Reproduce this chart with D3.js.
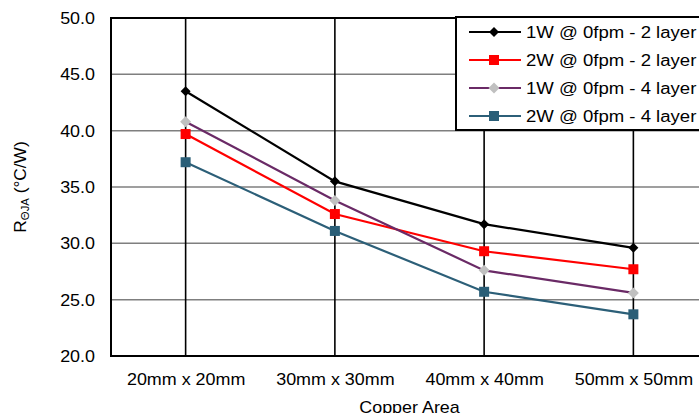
<!DOCTYPE html>
<html><head><meta charset="utf-8">
<script src="https://cdn.jsdelivr.net/npm/d3@7"></script>
<style>
html,body{margin:0;padding:0;background:#fff;}
svg text{font-family:"Liberation Sans",Arial,sans-serif;fill:#000;}
</style></head>
<body>
<svg id="chart" width="699" height="413"></svg>
<script>
const categories = ["20mm x 20mm","30mm x 30mm","40mm x 40mm","50mm x 50mm"];
const seriesNames = ["1W @ 0fpm - 2 layer","2W @ 0fpm - 2 layer","1W @ 0fpm - 4 layer","2W @ 0fpm - 4 layer"];
const s1W2L = [43.5, 35.5, 31.7, 29.6];
const s2W2L = [39.7, 32.6, 29.3, 27.7];
const s1W4L = [40.8, 33.8, 27.6, 25.6];
const s2W4L = [37.2, 31.1, 25.7, 23.7];
const yTicks = [20, 25, 30, 35, 40, 45, 50];

const seriesValues = [s1W2L, s2W2L, s1W4L, s2W4L];
const lineColors = ["#000000", "#ff0000", "#6a2a66", "#2c5f78"];
const markerColors = ["#000000", "#ff0000", "#c0c0c0", "#2a5e77"];
const markerShapes = ["diamond", "square", "diamond", "square"];

const svg = d3.select("#chart");
const pLeft = 111, pRight = 708, pTop = 18, pBottom = 356;
const SX = 1.12;

const x = d3.scalePoint().domain(categories).range([pLeft, pRight]).padding(0.5);
const y = d3.scaleLinear().domain([20, 50]).range([pBottom, pTop]);

// horizontal gridlines
svg.append("g").selectAll("line").data(yTicks.filter(d => d !== 20 && d !== 50)).join("line")
  .attr("x1", pLeft).attr("x2", pRight).attr("y1", d => y(d)).attr("y2", d => y(d))
  .attr("stroke", "#7f7f7f").attr("stroke-width", 1.5);
// vertical category lines
svg.append("g").selectAll("line").data(categories).join("line")
  .attr("x1", d => x(d)).attr("x2", d => x(d)).attr("y1", pTop).attr("y2", pBottom)
  .attr("stroke", "#000").attr("stroke-width", 1.6);
// frame
svg.append("rect").attr("x", pLeft).attr("y", pTop).attr("width", pRight - pLeft).attr("height", pBottom - pTop)
  .attr("fill", "none").attr("stroke", "#000").attr("stroke-width", 2);

// y axis labels
const yAxis = svg.append("g").attr("transform", `translate(${pLeft},0)`)
  .call(d3.axisLeft(y).tickValues(yTicks).tickFormat(d3.format(".1f")).tickSize(0).tickPadding(0));
yAxis.select(".domain").remove();
yAxis.selectAll("text").attr("x", null).attr("dy", "0.35em")
  .attr("transform", `translate(-16,0) scale(${SX},1)`)
  .attr("font-size", 16).attr("text-anchor", "end").style("font-family", "Liberation Sans, Arial, sans-serif");

// x axis labels
const xAxis = svg.append("g").attr("transform", `translate(0,${pBottom})`)
  .call(d3.axisBottom(x).tickSize(0).tickPadding(0));
xAxis.select(".domain").remove();
xAxis.selectAll("text").attr("y", null).attr("dy", null)
  .attr("transform", `translate(0,29) scale(${SX},1)`)
  .attr("font-size", 16).attr("text-anchor", "middle").style("font-family", "Liberation Sans, Arial, sans-serif");

// axis titles
svg.append("text").attr("transform", `translate(${(pLeft + pRight) / 2},413) scale(${SX},1)`)
  .attr("text-anchor", "middle").attr("font-size", 16).text("Copper Area");

const yt = svg.append("text").attr("transform", `translate(26,${(pTop + pBottom) / 2}) rotate(-90) scale(1.08,1.08)`)
  .attr("text-anchor", "middle").attr("font-size", 16);
yt.append("tspan").text("R");
yt.append("tspan").attr("font-size", 10.5).attr("dy", 3).text("ΘJA");
yt.append("tspan").attr("dy", -3).text(" (°C/W)");

// series
const line = d3.line().x((d, i) => x(categories[i])).y(d => y(d));
function drawMarker(g, shape, color, cx, cy, size) {
  if (shape === "square") {
    g.append("rect").attr("x", cx - size / 2).attr("y", cy - size / 2).attr("width", size).attr("height", size).attr("fill", color);
  } else {
    const h = size / 2 + 1;
    g.append("path").attr("d", `M${cx},${cy - h}L${cx + h},${cy}L${cx},${cy + h}L${cx - h},${cy}Z`).attr("fill", color);
  }
}
const markerSizes = [8, 10, 9, 10];
seriesValues.forEach((vals, si) => {
  const g = svg.append("g");
  g.append("path").datum(vals).attr("d", line).attr("fill", "none")
    .attr("stroke", lineColors[si]).attr("stroke-width", 2.2);
  vals.forEach((v, i) => drawMarker(g, markerShapes[si], markerColors[si], x(categories[i]), y(v), markerSizes[si]));
});

// legend
const lg = svg.append("g");
lg.append("rect").attr("x", 456).attr("y", 17).attr("width", 300).attr("height", 113)
  .attr("fill", "#fff").attr("stroke", "#000").attr("stroke-width", 2);
seriesNames.forEach((name, si) => {
  const ly = 32 + si * 28;
  lg.append("line").attr("x1", 469).attr("x2", 521).attr("y1", ly).attr("y2", ly)
    .attr("stroke", lineColors[si]).attr("stroke-width", 2.2);
  drawMarker(lg, markerShapes[si], markerColors[si], 494, ly, markerSizes[si]);
  lg.append("text").attr("transform", `translate(526,${ly}) scale(1.16,1)`).attr("dy", "0.35em")
    .attr("font-size", 16).text(name);
});
</script>
</body></html>
